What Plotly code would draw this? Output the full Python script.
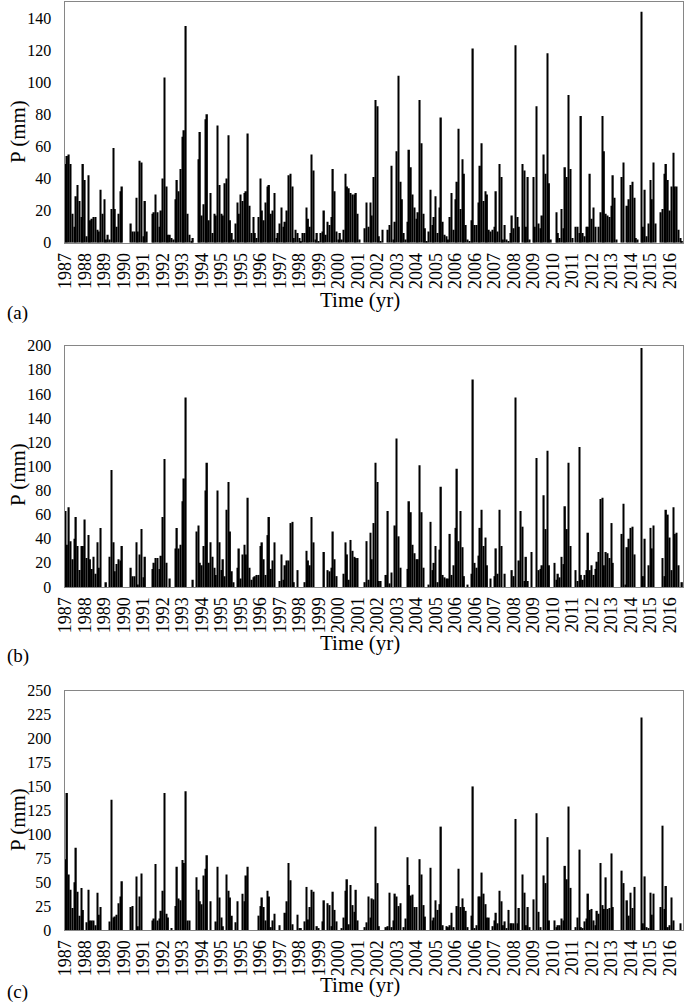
import plotly.graph_objects as go

# Year tick labels (one label every 11 months, as in the original Excel axis)
tick_labels = ["1987", "1988", "1989", "1990", "1991", "1992", "1993", "1994",
               "1995", "1995", "1996", "1997", "1998", "1999", "2000", "2001",
               "2002", "2003", "2004", "2005", "2006", "2006", "2007", "2008",
               "2009", "2010", "2011", "2012", "2013", "2014", "2015", "2016"]

# Monthly precipitation (mm), panel (a)
P_a = [49, 54, 55, 49, 18, 10, 29, 36, 26, 16, 49, 39,
       4, 42, 14, 15, 16, 16, 8, 7, 33, 18, 27, 2,
       5, 2, 21, 59, 21, 10, 18, 32, 35, 0, 0, 0,
       0, 12, 7, 7, 28, 7, 51, 50, 4, 26, 7, 0,
       0, 18, 19, 30, 19, 10, 20, 40, 103, 35, 5, 5,
       3, 2, 27, 39, 32, 46, 66, 70, 135, 18, 5, 1,
       3, 0, 0, 52, 69, 17, 24, 77, 80, 14, 31, 6,
       18, 17, 73, 36, 18, 17, 37, 40, 67, 14, 6, 2,
       12, 25, 18, 30, 26, 31, 32, 68, 23, 6, 16, 6,
       3, 16, 40, 20, 14, 25, 35, 36, 18, 20, 31, 3,
       6, 12, 22, 10, 13, 20, 42, 43, 35, 3, 8, 6,
       3, 1, 6, 6, 22, 15, 10, 55, 45, 2, 6, 1,
       6, 7, 20, 5, 13, 11, 16, 46, 32, 7, 2, 6,
       2, 8, 43, 35, 34, 31, 30, 30, 31, 18, 2, 0,
       0, 9, 25, 10, 25, 17, 41, 89, 85, 4, 1, 8,
       0, 0, 8, 11, 48, 2, 13, 57, 104, 38, 27, 6,
       2, 13, 58, 47, 30, 22, 15, 19, 89, 62, 18, 9,
       1, 7, 33, 11, 16, 29, 6, 22, 78, 13, 5, 4,
       2, 16, 31, 8, 27, 38, 71, 21, 52, 43, 11, 2,
       1, 14, 121, 11, 11, 25, 48, 62, 26, 32, 30, 8,
       7, 8, 10, 32, 7, 49, 41, 2, 11, 2, 1, 6,
       17, 9, 123, 16, 10, 0, 49, 45, 10, 41, 2, 0,
       41, 10, 85, 12, 9, 17, 55, 43, 118, 37, 2, 0,
       0, 19, 6, 3, 21, 9, 47, 41, 92, 46, 3, 0,
       10, 10, 6, 79, 6, 4, 10, 10, 43, 15, 22, 10,
       0, 10, 19, 79, 57, 18, 17, 16, 23, 42, 28, 2,
       0, 0, 41, 50, 0, 23, 27, 36, 38, 28, 3, 2,
       0, 144, 10, 33, 4, 12, 39, 27, 50, 12, 0, 0,
       19, 21, 43, 49, 39, 20, 35, 56, 35, 35, 8, 3,
       1]

# Monthly precipitation (mm), panel (b)
P_b = [63, 35, 66, 38, 23, 40, 58, 34, 14, 34, 34, 56,
       24, 43, 23, 15, 25, 11, 37, 16, 49, 0, 0, 4,
       0, 25, 97, 37, 13, 19, 23, 22, 34, 0, 0, 0,
       0, 16, 9, 9, 37, 2, 27, 48, 8, 25, 0, 0,
       0, 15, 20, 24, 24, 15, 26, 58, 106, 20, 0, 7,
       0, 0, 32, 49, 32, 35, 71, 90, 157, 0, 0, 0,
       6, 0, 46, 51, 20, 18, 34, 80, 103, 20, 37, 25,
       16, 10, 80, 37, 14, 23, 9, 64, 87, 46, 13, 4,
       0, 16, 32, 7, 27, 35, 27, 74, 16, 6, 8, 9,
       10, 10, 34, 37, 23, 10, 43, 58, 15, 22, 37, 0,
       0, 5, 27, 6, 18, 22, 22, 53, 54, 4, 0, 14,
       0, 0, 0, 4, 30, 22, 18, 58, 37, 0, 0, 0,
       0, 0, 29, 0, 14, 13, 16, 46, 23, 9, 0, 0,
       0, 11, 37, 27, 6, 39, 30, 25, 24, 24, 0, 0,
       0, 4, 38, 6, 45, 23, 53, 103, 87, 5, 5, 0,
       0, 10, 63, 3, 12, 0, 51, 123, 42, 16, 0, 0,
       0, 15, 71, 62, 35, 28, 23, 23, 101, 62, 16, 0,
       0, 2, 54, 14, 20, 34, 4, 31, 83, 10, 8, 7,
       7, 44, 10, 18, 49, 98, 38, 63, 33, 9, 0, 2,
       0, 11, 172, 20, 16, 26, 49, 64, 34, 41, 18, 0,
       7, 0, 9, 32, 11, 64, 34, 0, 11, 0, 0, 0,
       14, 9, 157, 0, 22, 63, 50, 5, 25, 5, 0, 29,
       0, 0, 107, 14, 15, 18, 76, 48, 113, 18, 0, 0,
       20, 6, 11, 8, 25, 19, 67, 48, 103, 34, 0, 0,
       14, 5, 116, 10, 6, 10, 14, 45, 14, 18, 10, 15,
       21, 29, 73, 74, 18, 29, 28, 24, 53, 20, 0, 0,
       0, 0, 44, 69, 2, 33, 40, 49, 50, 27, 0, 0,
       0, 198, 9, 40, 0, 18, 49, 32, 51, 0, 0, 0,
       0, 24, 9, 64, 60, 41, 14, 66, 44, 45, 18, 0,
       4]

# Monthly precipitation (mm), panel (c)
P_c = [74, 143, 58, 42, 23, 50, 86, 40, 15, 44, 21, 0,
       8, 42, 10, 10, 10, 5, 39, 16, 24, 0, 0, 0,
       0, 9, 136, 13, 14, 16, 28, 35, 51, 0, 0, 0,
       0, 24, 25, 0, 56, 4, 35, 59, 0, 0, 0, 0,
       0, 10, 12, 69, 10, 12, 20, 41, 143, 17, 13, 0,
       2, 0, 25, 66, 33, 31, 73, 70, 145, 10, 10, 0,
       0, 0, 55, 42, 30, 27, 57, 64, 78, 0, 30, 0,
       0, 9, 66, 34, 13, 4, 0, 58, 41, 34, 15, 0,
       8, 30, 0, 0, 38, 30, 57, 66, 0, 0, 0, 0,
       0, 15, 25, 34, 24, 10, 41, 35, 3, 10, 17, 0,
       0, 5, 0, 0, 18, 30, 70, 52, 6, 0, 0, 16,
       2, 2, 0, 9, 45, 11, 24, 42, 40, 0, 4, 2,
       0, 9, 31, 0, 28, 26, 4, 40, 21, 9, 0, 0,
       2, 13, 41, 53, 6, 47, 26, 19, 42, 10, 0, 0,
       0, 3, 8, 35, 13, 33, 32, 108, 49, 4, 0, 0,
       0, 3, 4, 39, 3, 10, 38, 35, 25, 28, 0, 3,
       12, 76, 47, 36, 37, 24, 24, 0, 74, 58, 26, 14,
       0, 0, 65, 10, 13, 31, 21, 27, 108, 5, 0, 4,
       3, 5, 18, 3, 0, 25, 64, 24, 33, 24, 20, 3,
       0, 15, 150, 2, 5, 35, 35, 60, 38, 27, 13, 13,
       0, 4, 10, 18, 7, 41, 30, 5, 9, 2, 21, 7,
       7, 7, 116, 7, 23, 0, 58, 39, 5, 24, 3, 0,
       32, 0, 122, 19, 3, 0, 57, 49, 97, 10, 0, 0,
       10, 3, 5, 5, 12, 10, 67, 53, 129, 44, 0, 0,
       3, 13, 84, 3, 2, 9, 12, 38, 21, 22, 10, 5,
       20, 17, 70, 26, 22, 55, 22, 23, 80, 24, 0, 0,
       0, 0, 62, 49, 0, 31, 15, 39, 23, 45, 0, 0,
       0, 222, 7, 56, 3, 2, 39, 16, 38, 0, 0, 0,
       24, 109, 22, 46, 3, 5, 34, 10, 0, 0, 0, 7,
       0]

panel_names = ["(a)", "(b)", "(c)"]
series = [P_a, P_b, P_c]
y_max = [150, 200, 250]
y_step = [20, 20, 25]

W, H = 685, 1003
FONT = "Liberation Serif"

x_dom = [64.5 / W, 683 / W]
y_doms = [[1 - 242.7 / H, 1 - 2 / H],
          [1 - 587 / H, 1 - 345.7 / H],
          [1 - 930 / H, 1 - 690.7 / H]]
ylab_y = [132, 475, 820]
xlab_y = [300, 643, 985]
panel_y = [313, 656, 992]

fig = go.Figure()
n = len(P_a)
tick_pos = [11 * k for k in range(len(tick_labels))]

for k, vals in enumerate(series):
    sfx = "" if k == 0 else str(k + 1)
    fig.add_trace(go.Bar(x=list(range(len(vals))), y=vals,
                         marker=dict(color="#000000", line=dict(width=0)),
                         xaxis="x" + sfx, yaxis="y" + sfx, showlegend=False))
    fig.layout["xaxis" + sfx] = dict(
        domain=x_dom, anchor="y" + sfx, range=[-0.5, n - 0.5],
        tickmode="array", tickvals=tick_pos, ticktext=tick_labels,
        tickangle=-90, ticks="", showgrid=False, zeroline=False,
        showline=True, mirror=True, linecolor="#868686", linewidth=1,
        tickfont=dict(family=FONT, size=18, color="#000"),
        ticklabelstandoff=2, automargin=False)
    fig.layout["yaxis" + sfx] = dict(
        domain=y_doms[k], anchor="x" + sfx, range=[0, y_max[k]],
        tick0=0, dtick=y_step[k], ticks="", showgrid=False, zeroline=False,
        showline=True, mirror=True, linecolor="#868686", linewidth=1,
        tickfont=dict(family=FONT, size=16, color="#000"),
        ticklabelstandoff=9, automargin=False)
    fig.add_annotation(text="P (mm)", x=18 / W, y=1 - ylab_y[k] / H,
                       xref="paper", yref="paper", textangle=-90,
                       showarrow=False, xanchor="center", yanchor="middle",
                       font=dict(family=FONT, size=21, color="#000"))
    fig.add_annotation(text="Time (yr)", x=360 / W, y=1 - xlab_y[k] / H,
                       xref="paper", yref="paper", showarrow=False,
                       xanchor="center", yanchor="middle",
                       font=dict(family=FONT, size=21, color="#000"))
    fig.add_annotation(text=panel_names[k], x=5 / W, y=1 - panel_y[k] / H,
                       xref="paper", yref="paper", showarrow=False,
                       xanchor="left", yanchor="middle",
                       font=dict(family=FONT, size=19, color="#000"))

fig.update_layout(width=W, height=H, margin=dict(l=0, r=0, t=0, b=0),
                  paper_bgcolor="white", plot_bgcolor="white",
                  bargap=0.2, font=dict(family=FONT, color="#000"))

fig.write_html("out.html", config={"displayModeBar": False},
               post_script="document.body.style.margin='0';"
                           "document.body.style.overflow='hidden';")
